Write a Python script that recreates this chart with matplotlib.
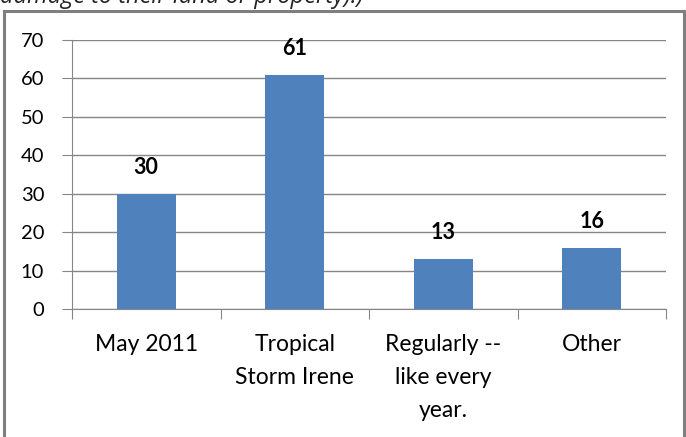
import matplotlib.pyplot as plt
from matplotlib.patches import Rectangle

categories = ['May 2011', 'Tropical\nStorm Irene', 'Regularly --\nlike every\nyear.', 'Other']
values = [30, 61, 13, 16]
yticks = [0, 10, 20, 30, 40, 50, 60, 70]

plt.rcParams['font.family'] = ['Lato', 'DejaVu Sans']

fig = plt.figure(figsize=(6.86, 4.37), dpi=100)
W, H = 686, 437

# outer chart border (gray frame)
fig.patches.append(Rectangle((4 / W, -0.05), 680 / W, 1 - 11 / H + 0.05, transform=fig.transFigure,
                             fill=False, edgecolor='#7f7f7f', linewidth=2.2))

# clipped caption from the page above
fig.text(0.0, 1 - 3 / H, 'damage to their land or property).)', style='italic', fontsize=17,
         family='Open Sans', va='baseline', ha='left', color='#222222')

ax = fig.add_axes([72 / W, 1 - 309 / H, (666 - 72) / W, (309 - 40) / H])
x = range(len(categories))
bars = ax.bar(x, values, width=0.4, color='#4F81BD', zorder=3)
for xi, v in zip(x, values):
    ax.annotate(str(v), (xi, v), xytext=(0, 19), textcoords='offset points',
                ha='center', va='center', fontsize=15.5, fontweight='bold')

ax.set_xlim(-0.5, len(categories) - 0.5)
ax.set_ylim(0, 70)
ax.set_yticks(yticks)
ax.set_xticks([i - 0.5 for i in range(len(categories) + 1)], minor=False)
ax.set_xticklabels([])
ax.set_xticks(list(x), minor=True)
ax.set_xticklabels(categories, minor=True, fontsize=16.5, linespacing=1.72, va='top')
ax.tick_params(axis='x', which='minor', length=0, pad=18)
ax.tick_params(axis='x', which='major', length=7, color='#868686', direction='out')
ax.tick_params(axis='y', length=7, color='#868686', labelsize=14.5, pad=13)
ax.grid(axis='y', color='#868686', linewidth=1, zorder=0)
for s in ['top', 'right']:
    ax.spines[s].set_visible(False)
for s in ['left', 'bottom']:
    ax.spines[s].set_color('#868686')

fig.savefig('out.png', dpi=100)
